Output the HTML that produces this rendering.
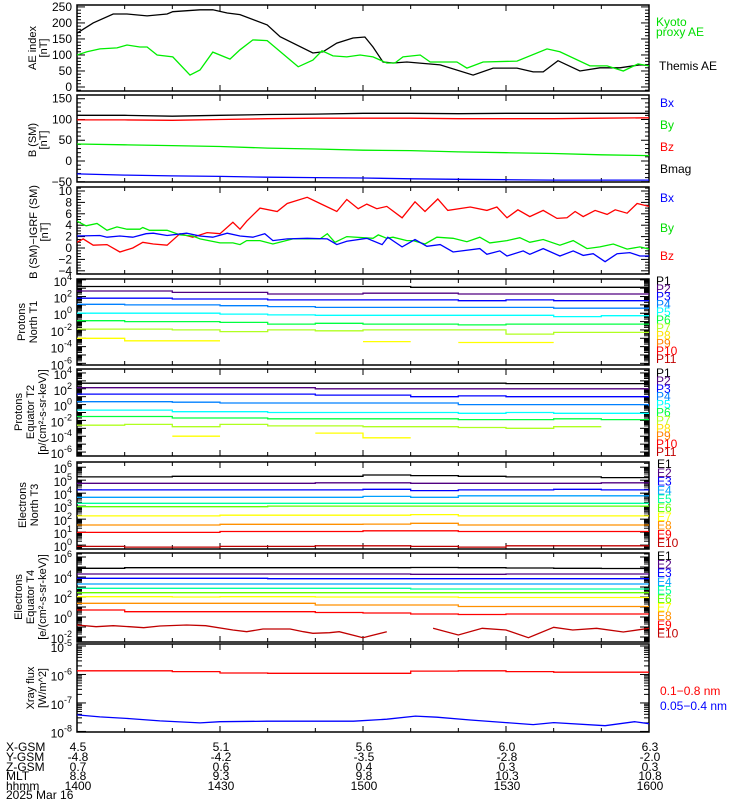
<!DOCTYPE html>
<html><head><meta charset="utf-8"><style>
html,body{margin:0;padding:0;background:#fff;}
svg{display:block;font-family:"Liberation Sans",sans-serif;}
</style></head><body>
<svg id="chart" width="750" height="800" viewBox="0 0 750 800" xmlns="http://www.w3.org/2000/svg"></svg>
<script>
// ---------- data ----------
const timeTicks = [0, 30, 60, 90, 120];
const xgsm = ["4.5","5.1","5.6","6.0","6.3"];
const ygsm = ["-4.8","-4.2","-3.5","-2.8","-2.0"];
const zgsm = ["0.7","0.6","0.4","0.3","0.3"];
const mlt = ["8.8","9.3","9.8","10.3","10.8"];
const hhmm = ["1400","1430","1500","1530","1600"];
const stepTimes = [0,10,20,30,40,50,60,70,80,90,100,110,120];

// Panel 1 AE
const aeThemisT = [0,3.4,7.6,10.5,14.7,18.9,20.1,25.8,28.5,31.5,34.2,39.9,42.6,49.5,51.6,54.5,57.9,60.4,62.1,64.2,66.3,69.2,76.2,83.1,87.3,92.3,95.7,97.8,100.9,105.5,109.7,113.9,118.1,120];
const aeThemisV = [168,200,228,228,222,228,235,241,241,231,226,194,157,106,110,137,153,156,125,78,75,78,69,37,59,59,47,47,82,50,60,60,69,67];
const aeKyotoT = [0,2.1,4.8,8.4,10.5,13.2,14.7,16.8,20.1,23.7,25.8,28.5,32.1,34.2,36.9,39.9,46.4,49.5,51.4,53.7,56.6,59.4,62.1,65,66.7,68.4,72,74.1,79.7,81.8,85.2,92.3,98.6,101.3,107.6,111.2,114.6,117.7,120];
const aeKyotoV = [100,110,119,122,131,125,125,100,94,37,53,109,87,116,147,145,63,84,113,97,94,100,94,75,75,94,100,78,78,59,78,81,119,110,66,66,50,72,66];

// Panel 2 B SM
const bmagV = [110,110,108,110,112,113,115,115,114,115,115,115,115];
const bzV = [99,99,98,100,102,103,103,103,102,102,102,103,104];
const byV = [41,39,37,35,31,29,26,25,22,20,18,15,13];
const bxV = [-31,-34,-36,-37,-39,-40,-41,-43,-44,-45,-46,-46,-46];

// Panel 3 B - IGRF
const dBzT = [0,1.3,3.4,6.3,9,11.7,13.8,16,18.9,21.6,24.3,27.3,30,32.7,34.2,35.6,38.4,42,44.1,48.3,51,54.5,56.6,59,60.8,62.9,65,68.2,70.9,73,75.7,77.8,82.5,86,88.1,90.2,92.5,95,97.8,100.7,102.8,104.5,106.2,108.7,111.2,112.9,115.4,117.5,120];
const dBzV = [1.0,1.6,0.5,0.6,-0.7,0,1.0,0.7,0.5,2.5,1.9,2.7,2.5,4.5,3.3,4.7,7.0,6.4,7.8,8.9,7.8,6.4,8.5,6.9,7.7,6.9,7.3,5.3,8.1,6.4,8.6,6.6,7.2,6.6,7.2,5.3,6.7,5.5,6.6,5.2,5.3,6.4,5.5,6.6,5.9,6.7,6.1,7.8,7.3];
const dByT = [0,1.9,4.2,6.3,8.4,10.5,13.2,13.8,15.2,18.9,21.6,24.3,25.8,30,32.7,34.2,35.6,38.4,41.1,45.3,51,52.5,54.1,56.6,62.1,63.2,65,66.3,69.2,70.5,73,75.5,78.9,81.8,84.5,86.6,90.2,92.9,95,97.8,101.3,104.1,107,109.7,112.5,115.4,118.1,120];
const dByV = [4.7,3.9,4.3,3.1,3.7,3.3,3.3,3.6,3.1,3.1,2.3,2.1,1.6,0.9,0.9,0.6,1.3,1.3,0.7,1.6,1.6,2.5,1.0,2.0,1.7,2.3,1.7,1.9,1.3,1.3,0.7,1.9,1.7,1.1,1.9,0.9,1.3,1.8,1.0,1.5,0.5,1.3,-0.1,0.2,0.7,-0.2,0.2,-0.2];
const dBxT = [0,4.8,6.3,9,11.7,14.5,16,18.9,23,25.8,28.5,31.5,34.2,36.9,39.4,41.1,44.1,48.3,52.5,54.5,56.6,60.8,64,65.2,68.2,70.9,73.4,76.2,78.9,84.5,86,88.7,90.2,93.6,95,97.8,101.3,104.1,106.2,108.3,110.8,113.3,116,118.1,120];
const dBxV = [2.1,2.2,1.9,2.1,1.9,2.5,2.6,2.2,2.6,2.1,1.9,2.6,2.1,1.9,2.5,1.3,1.6,1.7,1.6,0.6,1.2,1.7,0.6,1.9,0.2,1.5,0.3,0.6,-0.7,-0.1,-1.1,-0.5,-1.4,-0.5,-1.1,-0.1,-1.4,-0.5,-1.3,-1.0,-2.4,-1.0,-0.8,-1.4,-1.4];

// Panel 4 protons north T1 (log10 flux)
const pN1 = [3.2,3.2,3.2,3.2,3.2,3.2,3.2,3.1,3.1,3.1,3.1,3.1,3.1];
const pN2 = [2.66,2.66,2.5,2.5,2.3,2.3,2.4,2.4,2.3,2.3,2.3,2.3,2.3];
const pN3 = [1.8,1.8,1.7,1.7,1.6,1.6,1.6,1.6,1.5,1.6,1.5,1.5,1.5];
const pN4 = [1.07,1.0,1.0,0.9,0.8,0.7,0.7,0.7,0.7,0.7,0.6,0.6,0.6];
const pN5 = [0.0,0.0,0.0,-0.1,-0.2,-0.25,-0.25,-0.25,-0.25,-0.25,-0.4,-0.3,-0.3];
const pN6 = [-0.9,-1.0,-1.0,-1.1,-1.3,-1.2,-1.3,-1.3,-1.4,-1.3,-1.3,-1.3,-1.4];
const pN7 = [-1.9,-1.9,-2.0,-2.2,-2.0,-2.1,-2.0,-2.0,-2.0,-2.5,-2.3,-2.3,-2.2];
const pN8 = [-3.0,-3.3,-3.3,null,null,null,-3.4,null,-3.5,-3.5,null,null,-3.5];

// Panel 5 protons equator T2
const pE1 = [2.7,2.7,2.7,2.7,2.7,2.7,2.7,2.7,2.7,2.65,2.65,2.65,2.65];
const pE2 = [2.13,2.13,2.13,2.13,2.13,2.0,2.0,2.0,2.0,2.0,2.0,2.0,2.0];
const pE3 = [1.33,1.33,1.33,1.33,1.33,1.2,1.2,1.0,1.1,1.0,1.0,1.0,1.0];
const pE4 = [0.36,0.36,0.3,0.2,0.2,0.2,0.2,0.2,0.0,0.0,0.0,0.0,-0.2];
const pE5 = [-0.7,-0.7,-0.9,-0.9,-1.0,-1.0,-1.0,-1.0,-1.1,-1.0,-1.1,-1.1,-1.0];
const pE6 = [-1.5,-1.5,-1.7,-1.7,-1.8,-1.8,-1.8,-1.8,-1.9,-1.9,-1.8,-1.9,-1.8];
const pE7 = [-2.6,-2.5,-2.8,-2.5,-2.7,-2.7,-2.8,-2.8,-2.9,-3.0,-2.8,null,-3.2];
const pE8 = [null,null,-4.0,null,null,-3.6,-4.2,null,null,null,null,null,-3.6];

// Panel 6 electrons north T3
const eN1 = [5.25,5.25,5.3,5.3,5.3,5.3,5.4,5.35,5.3,5.25,5.25,5.2,5.2];
const eN2 = [4.76,4.76,4.76,4.76,4.76,4.8,4.8,4.76,4.76,4.76,4.76,4.8,4.8];
const eN3 = [4.25,4.25,4.25,4.25,4.25,4.25,4.3,4.2,4.25,4.25,4.3,4.25,4.25];
const eN4 = [3.68,3.68,3.68,3.68,3.68,3.68,3.75,3.68,3.8,3.8,3.8,3.8,3.8];
const eN5 = [3.22,3.22,3.22,3.22,3.22,3.22,3.22,3.22,3.22,3.22,3.22,3.22,3.22];
const eN6 = [2.96,2.96,2.96,2.96,3.0,3.0,3.0,3.0,3.0,3.0,3.0,3.0,3.0];
const eN7 = [2.25,2.25,2.25,2.3,2.3,2.3,2.3,2.35,2.25,2.25,2.25,2.25,2.25];
const eN8 = [1.55,1.55,1.55,1.6,1.6,1.6,1.62,1.68,1.55,1.55,1.55,1.55,1.55];
const eN9 = [0.98,0.98,0.98,1.05,1.05,1.05,1.1,1.1,1.05,1.05,1.05,1.05,1.05];
const eN10 = [-0.1,-0.15,-0.15,-0.1,-0.1,-0.05,-0.05,-0.1,-0.15,-0.05,-0.05,-0.05,-0.05];

// Panel 7 electrons equator T4
const eE1 = [4.87,4.93,4.93,4.93,4.93,4.93,4.93,4.95,4.93,4.9,4.87,4.85,4.85];
const eE2 = [4.3,4.3,4.3,4.3,4.3,4.3,4.3,4.27,4.27,4.3,4.3,4.3,4.3];
const eE3 = [3.87,3.87,3.87,3.87,3.83,3.83,3.83,3.83,3.83,3.83,3.83,3.83,3.83];
const eE4 = [3.3,3.3,3.3,3.3,3.3,3.3,3.3,3.3,3.3,3.3,3.3,3.3,3.3];
const eE5 = [2.87,2.87,2.87,2.87,2.87,2.87,2.87,2.8,2.8,2.8,2.8,2.8,2.8];
const eE6 = [2.43,2.43,2.43,2.43,2.43,2.43,2.43,2.43,2.43,2.43,2.43,2.43,2.43];
const eE7 = [2.03,2.03,2.0,2.03,2.03,2.0,2.0,2.0,1.95,1.95,1.95,1.95,1.95];
const eE8 = [1.37,1.37,1.37,1.37,1.37,1.2,1.2,1.2,1.05,1.05,1.05,1.05,1.05];
const eE9 = [0.7,0.53,0.53,0.53,0.53,0.45,0.4,0.3,0.25,0.3,0.3,0.3,0.35];
const eE10T = [0,4,7.6,11,14,17.4,23,27,32.7,35.6,39,44.7,47.5,49.5,53,55,60,65,70,74.7,80,85,90,94.7,100,104,109,114.6,120];
const eE10V = [-0.8,-0.97,-0.87,-0.97,-1.07,-0.9,-0.8,-0.87,-1.3,-1.47,-1.2,-1.2,-1.47,-1.63,-1.57,-1.47,-2.07,-1.47,null,-1.13,-1.8,-1.13,-1.3,-2.07,-1.03,-1.3,-1.13,-1.5,-1.13];

// Panel 8 X-ray
const xrLongV = [-5.87,-5.87,-5.9,-5.95,-5.96,-5.96,-5.96,-5.88,-5.87,-5.9,-5.92,-5.92,-5.92];
const xrShortT = [0,4.8,11,17.4,25.8,30,40,58,65,71,75.5,82.5,90,95.7,100,110.8,117,120];
const xrShortV = [-7.42,-7.49,-7.55,-7.63,-7.7,-7.66,-7.64,-7.64,-7.57,-7.46,-7.5,-7.6,-7.69,-7.76,-7.69,-7.8,-7.66,-7.73];

// ---------- drawing ----------
const NS = "http://www.w3.org/2000/svg";
const svg = document.getElementById("chart");
const X0 = 77, X1 = 649, T0 = 0, T1 = 120;
function xs(t){ return X0 + (t - T0) / (T1 - T0) * (X1 - X0); }
function mk(tag, attrs, parent){
  const e = document.createElementNS(NS, tag);
  for (const k in attrs) e.setAttribute(k, attrs[k]);
  (parent || svg).appendChild(e);
  return e;
}
function txt(str, x, y, opts, parent){
  const e = mk("text", {x:x, y:y, "font-size":(opts.size||12), fill:(opts.fill||"#000"), "text-anchor":(opts.anchor||"start"), "dominant-baseline":"central"}, parent);
  if (opts.rot) e.setAttribute("transform", "rotate(-90 " + x + " " + y + ")");
  e.textContent = str;
  return e;
}
function powLabel(exp, x, y, parent){
  const e = mk("text", {x:x, y:y, "font-size":12, fill:"#000", "text-anchor":"end", "dominant-baseline":"central"}, parent);
  const b = document.createElementNS(NS, "tspan");
  b.textContent = "10";
  e.appendChild(b);
  const s = document.createElementNS(NS, "tspan");
  s.setAttribute("dy", "-5");
  s.setAttribute("font-size", "9");
  s.textContent = String(exp);
  e.appendChild(s);
  return e;
}
function makePanel(cfg){
  const g = mk("g", {});
  
  
  const ys = v => cfg.bot - (v - cfg.ymin) / (cfg.ymax - cfg.ymin) * (cfg.bot - cfg.top);
  const cid = "clip-" + cfg.name;
  const cp = mk("clipPath", {id: cid}, g);
  mk("rect", {x:X0, y:cfg.top, width:X1-X0, height:cfg.bot-cfg.top}, cp);
  const fr = mk("rect", {x:X0, y:cfg.top, width:X1-X0, height:cfg.bot-cfg.top, fill:"none", stroke:"#000", "stroke-width":1.5}, g);
  
  
  for (let t = 0; t <= 120; t += 10){
    const len = (t % 30 === 0) ? 6 : 4;
    mk("line", {x1:xs(t), x2:xs(t), y1:cfg.bot, y2:cfg.bot-len, stroke:"#000", "stroke-width":1}, g);
    mk("line", {x1:xs(t), x2:xs(t), y1:cfg.top, y2:cfg.top+len, stroke:"#000", "stroke-width":1}, g);
  }
  const tickAt = (v, len) => {
    const y = ys(v);
    mk("line", {x1:X0, x2:X0+len, y1:y, y2:y, stroke:"#000", "stroke-width":1}, g);
    mk("line", {x1:X1, x2:X1-len, y1:y, y2:y, stroke:"#000", "stroke-width":1}, g);
  };
  if (cfg.log){
    for (let d = Math.floor(cfg.ymin); d <= Math.ceil(cfg.ymax); d++){
      if (d >= cfg.ymin && d <= cfg.ymax) tickAt(d, 9);
      for (let m = 2; m <= 9; m++){
        const v = d + Math.log10(m);
        if (v > cfg.ymin && v < cfg.ymax) tickAt(v, 5);
      }
    }
    cfg.labels.forEach(ex => {
      const l = powLabel(ex, 72, ys(ex) + 2, g);
      
      
    });
  } else {
    for (let v = Math.ceil(cfg.ymin / cfg.minor) * cfg.minor; v <= cfg.ymax; v += cfg.minor){
      const major = Math.abs(v / cfg.major - Math.round(v / cfg.major)) < 1e-6;
      tickAt(v, major ? 8 : 4);
    }
    cfg.labels.forEach(v => {
      const l = txt(String(v).replace("-", "\u2212"), 72, ys(v), {anchor:"end", size:12}, g);
      
      
    });
  }
  cfg.title.forEach((line, i) => {
    const l = txt(line, cfg.titleX[i], cfg.titleY, {anchor:"middle", size:11, rot:true}, g);
    
    
  });
  const sg = mk("g", {"clip-path":"url(#" + cid + ")"}, g);
  cfg.series.forEach(s => {
    let d = "";
    if (s.step){
      let pen = false;
      s.v.forEach((v, i) => {
        if (v === null){ pen = false; return; }
        const xa = xs(stepTimes[i]), xb = xs(Math.min(stepTimes[i] + 10, 120)), y = ys(v);
        d += (pen ? "L" : "M") + xa.toFixed(1) + "," + y.toFixed(1) + "L" + xb.toFixed(1) + "," + y.toFixed(1);
        pen = true;
      });
    } else {
      let pen = false;
      const tt = s.t || stepTimes;
      s.v.forEach((v, i) => {
        if (v === null){ pen = false; return; }
        d += (pen ? "L" : "M") + xs(tt[i]).toFixed(1) + "," + ys(v).toFixed(1);
        pen = true;
      });
    }
    const p = mk("path", {d:d, fill:"none", stroke:s.c, "stroke-width":1.3}, sg);
    
    
  });
  cfg.legend.forEach(L => {
    const l = txt(L[0], L[2] || 659, L[1], {fill:L[3], size:12}, g);
    
    
  });
}
const pc = ["#000000","#500080","#0000ff","#0080ff","#00ffff","#00ff40","#b0ff20","#ffff00","#ff8000","#ff0000","#c00000"];
const ec = ["#000000","#500080","#0000ff","#00a0ff","#00ffa0","#60ff00","#ffff00","#ff9000","#ff0000","#c00000"];
const pLab = (top, sp) => ["P1","P2","P3","P4","P5","P6","P7","P8","P9","P10","P11"].map((n,i) => [n, top + i*sp, 656, pc[i] === "#ffff00" ? "#ffe000" : pc[i]]);
const eLab = (top, sp) => ["E1","E2","E3","E4","E5","E6","E7","E8","E9","E10"].map((n,i) => [n, top + i*sp, 657, ec[i]]);

makePanel({name:"ae-index-panel", top:5, bot:91, ymin:-12.5, ymax:256, log:false, major:50, minor:10, labels:[0,50,100,150,200,250],
  title:["AE index","[nT]"], titleX:[33,44], titleY:48,
  series:[{name:"themis-ae-line", t:aeThemisT, v:aeThemisV, c:"#000"},{name:"kyoto-ae-line", t:aeKyotoT, v:aeKyotoV, c:"#00ee00"}],
  legend:[["Kyoto",22,656,"#00dd00"],["proxy AE",32,656,"#00dd00"],["Themis AE",66,659,"#000"]]});
makePanel({name:"b-sm-panel", top:95, bot:182, ymin:-50.6, ymax:159, log:false, major:50, minor:10, labels:[-50,0,50,100,150],
  title:["B (SM)","[nT]"], titleX:[33,44], titleY:140,
  series:[{name:"bmag-line", v:bmagV, c:"#000"},{name:"bz-line", v:bzV, c:"#ff0000"},{name:"by-line", v:byV, c:"#00ee00"},{name:"bx-line", v:bxV, c:"#0000ff"}],
  legend:[["Bx",103,660,"#0000ff"],["By",125,660,"#00dd00"],["Bz",147,660,"#ff0000"],["Bmag",169,660,"#000"]]});
makePanel({name:"b-igrf-panel", top:187, bot:274, ymin:-4.56, ymax:10.7, log:false, major:2, minor:0.5, labels:[-4,-2,0,2,4,6,8,10],
  title:["B (SM)\u2212IGRF (SM)","[nT]"], titleX:[34,45], titleY:232,
  series:[{name:"dbz-line", t:dBzT, v:dBzV, c:"#ff0000"},{name:"dby-line", t:dByT, v:dByV, c:"#00ee00"},{name:"dbx-line", t:dBxT, v:dBxV, c:"#0000ff"}],
  legend:[["Bx",198,660,"#0000ff"],["By",228,660,"#00dd00"],["Bz",256,660,"#ff0000"]]});
makePanel({name:"protons-north-panel", top:279, bot:365, ymin:-6.2, ymax:4.1, log:true, labels:[4,2,0,-2,-4,-6],
  title:["Protons","North T1"], titleX:[22,34], titleY:322,
  series:[pN1,pN2,pN3,pN4,pN5,pN6,pN7,pN8].map((v,i)=>({name:"proton-north-p"+(i+1), v:v, step:true, c:pc[i]})),
  legend:pLab(281, 7.8)});
makePanel({name:"protons-equator-panel", top:369, bot:456, ymin:-6.5, ymax:4.5, log:true, labels:[4,2,0,-2,-4,-6],
  title:["Protons","Equator T2","[p/(cm\u00b2-s-sr-keV)]"], titleX:[19,31,43], titleY:412,
  series:[pE1,pE2,pE3,pE4,pE5,pE6,pE7,pE8].map((v,i)=>({name:"proton-equator-p"+(i+1), v:v, step:true, c:pc[i]})),
  legend:pLab(373, 7.9)});
makePanel({name:"electrons-north-panel", top:462, bot:549, ymin:-0.3, ymax:6.4, log:true, labels:[6,5,4,3,2,1,0],
  title:["Electrons","North T3"], titleX:[23,35], titleY:505,
  series:[eN1,eN2,eN3,eN4,eN5,eN6,eN7,eN8,eN9,eN10].map((v,i)=>({name:"electron-north-e"+(i+1), v:v, step:true, c:ec[i]})),
  legend:eLab(464, 8.8)});
makePanel({name:"electrons-equator-panel", top:553, bot:642, ymin:-2.5, ymax:6.4, log:true, labels:[6,4,2,0,-2],
  title:["Electrons","Equator T4","[e/(cm\u00b2-s-sr-keV)]"], titleX:[19,31,43], titleY:597,
  series:[eE1,eE2,eE3,eE4,eE5,eE6,eE7,eE8,eE9].map((v,i)=>({name:"electron-equator-e"+(i+1), v:v, step:true, c:ec[i]})).concat([{name:"electron-equator-e10", t:eE10T, v:eE10V, c:ec[9]}]),
  legend:eLab(556, 8.6)});
makePanel({name:"xray-panel", top:644, bot:732, ymin:-8.02, ymax:-4.93, log:true, labels:[-5,-6,-7,-8],
  title:["Xray flux","[W/m^2]"], titleX:[31,43], titleY:688,
  series:[{name:"xray-long-line", v:xrLongV, step:true, c:"#ff0000"},{name:"xray-short-line", t:xrShortT, v:xrShortV, c:"#0000ff"}],
  legend:[["0.1\u22120.8 nm",691,660,"#ff0000"],["0.05\u22120.4 nm",706,660,"#0000ff"]]});

const rows = [["X-GSM", xgsm, 747], ["Y-GSM", ygsm, 757], ["Z-GSM", zgsm, 767], ["MLT", mlt, 776], ["hhmm", hhmm, 786]];
rows.forEach(r => {
  const l = txt(r[0], 6, r[2], {size:12});
  
  
  r[1].forEach((v, i) => {
    const t = txt(v, xs(timeTicks[i]) + 1, r[2], {size:12, anchor:"middle"});
    
    
  });
});
const dl = txt("2025 Mar 16", 6, 795, {size:12});


</script>
</body></html>
